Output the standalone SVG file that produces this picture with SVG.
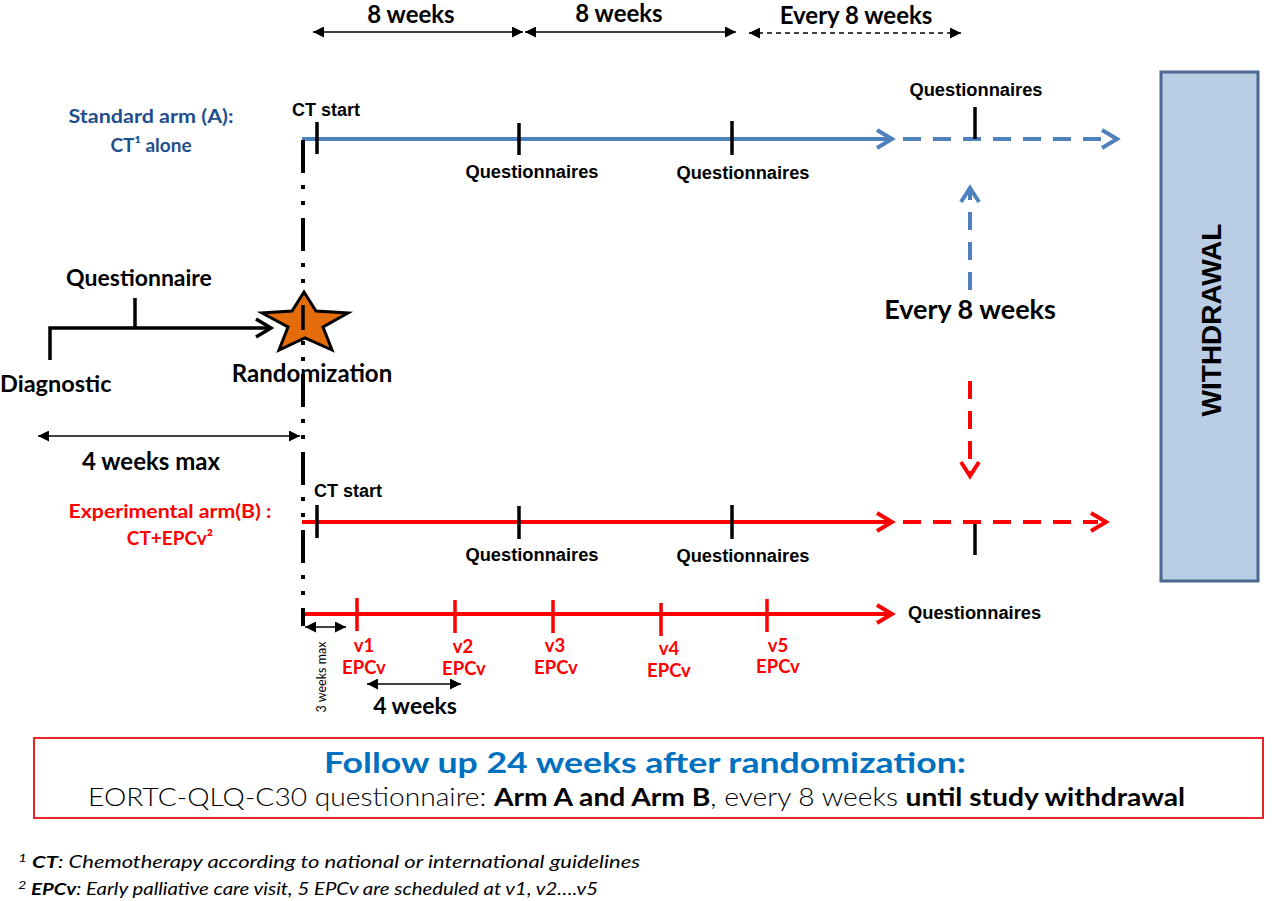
<svg xmlns="http://www.w3.org/2000/svg" width="1280" height="901" viewBox="0 0 1280 901">
<style>
.cal{font-family:Lato,"Open Sans","Liberation Sans",sans-serif;font-weight:bold}
.ari{font-family:"Liberation Sans",Arial,sans-serif;font-weight:bold}
.tick{stroke:#000;stroke-width:3.5}
.rtick{stroke:#FF0000;stroke-width:3.5}
.blue{stroke:#4F81BD;stroke-width:4;fill:none}
.red{stroke:#FF0000;stroke-width:4;fill:none}
.blk{stroke:#000;stroke-width:1.6;fill:none}
</style>
<defs>
<marker id="tri" viewBox="0 0 10 10" refX="10" refY="5" markerWidth="11" markerHeight="11" markerUnits="userSpaceOnUse" orient="auto-start-reverse">
<path d="M0,0 L10,5 L0,10 z" fill="#000"/>
</marker>
</defs>
<rect width="1280" height="901" fill="#fff"/>

<g id="connectors">
<line class="blk" x1="313" y1="32" x2="523" y2="32" marker-start="url(#tri)" marker-end="url(#tri)"/>
<line class="blk" x1="525" y1="32" x2="736" y2="32" marker-start="url(#tri)" marker-end="url(#tri)"/>
<line class="blk" x1="749" y1="33" x2="961" y2="33" stroke-dasharray="5 4" marker-start="url(#tri)" marker-end="url(#tri)"/>
<line class="blue" x1="302" y1="139" x2="891" y2="139"/>
<polyline class="blue" points="877,130 892,139 877,148"/>
<line class="blue" x1="903" y1="139" x2="1110" y2="139" stroke-dasharray="18 12"/>
<polyline class="blue" points="1102,130 1117,139 1102,148"/>
<line class="red" x1="302" y1="522" x2="891" y2="522"/>
<polyline class="red" points="877,513 892,522 877,531"/>
<line class="red" x1="903" y1="522" x2="1098" y2="522" stroke-dasharray="18 12"/>
<polyline class="red" points="1091,513 1106,522 1091,531"/>
<line class="red" x1="302" y1="614" x2="891" y2="614"/>
<polyline class="red" points="877,605 892,614 877,623"/>
<line class="blue" x1="970" y1="290" x2="970" y2="190" stroke-dasharray="18 12"/>
<polyline class="blue" points="961,202 970,188 979,202"/>
<line class="red" x1="970" y1="381" x2="970" y2="474" stroke-dasharray="18 12"/>
<polyline class="red" points="961,462 970,476 979,462"/>
<polyline points="50,360 50,328 270,328" fill="none" stroke="#000" stroke-width="3.5"/>
<polyline points="256,319 271,328 256,337" fill="none" stroke="#000" stroke-width="3.5"/>
<line class="tick" x1="135" y1="298" x2="135" y2="328"/>
<line class="blk" x1="38" y1="436" x2="300" y2="436" marker-start="url(#tri)" marker-end="url(#tri)"/>
<line class="blk" x1="305" y1="627" x2="346" y2="627" marker-start="url(#tri)" marker-end="url(#tri)"/>
<line class="blk" x1="367" y1="684" x2="461" y2="684" marker-start="url(#tri)" marker-end="url(#tri)"/>
</g>

<g id="randomization-line">
<line x1="303" y1="140" x2="303" y2="626" stroke="#000" stroke-width="4" stroke-dasharray="33 12 4 12 4 13"/>
</g>

<g id="star">
<polygon points="304,292 316,311 348,313 323,327 332,350 305,338 279,350 288,327 262,313 292,311" fill="#E46C0A" stroke="#000" stroke-width="3" stroke-linejoin="miter"/>
<line x1="303" y1="305" x2="303" y2="330" stroke="#000" stroke-width="3.5"/>
</g>

<g id="ticks">
<line class="tick" x1="317" y1="122" x2="317" y2="154"/>
<line class="tick" x1="519" y1="123" x2="519" y2="155"/>
<line class="tick" x1="732" y1="121" x2="732" y2="155"/>
<line class="tick" x1="975" y1="107" x2="975" y2="139"/>
<line class="tick" x1="317" y1="505" x2="317" y2="538"/>
<line class="tick" x1="519" y1="506" x2="519" y2="539"/>
<line class="tick" x1="732" y1="505" x2="732" y2="539"/>
<line class="tick" x1="975" y1="524" x2="975" y2="555"/>
<line class="rtick" x1="357" y1="598" x2="357" y2="631"/>
<line class="rtick" x1="455" y1="600" x2="455" y2="633"/>
<line class="rtick" x1="553" y1="600" x2="553" y2="633"/>
<line class="rtick" x1="661" y1="603" x2="661" y2="636"/>
<line class="rtick" x1="767" y1="599" x2="767" y2="632"/>
</g>

<g id="top-labels" class="cal" font-size="24" text-anchor="middle">
<text x="411" y="23">8 weeks</text>
<text x="619" y="22">8 weeks</text>
<text x="856" y="24">Every 8 weeks</text>
</g>

<g id="standard-arm">
<text class="cal" font-size="19" fill="#1F4E8C" text-anchor="middle" x="151" y="123" textLength="165" lengthAdjust="spacingAndGlyphs">Standard arm (A):</text>
<text class="cal" font-size="19" fill="#1F4E8C" text-anchor="middle" x="151" y="152">CT¹ alone</text>
<text class="ari" font-size="18" x="292" y="116">CT start</text>
<text class="ari" font-size="18.3" text-anchor="middle" x="532" y="178">Questionnaires</text>
<text class="ari" font-size="18.3" text-anchor="middle" x="743" y="179">Questionnaires</text>
<text class="ari" font-size="18.3" text-anchor="middle" x="976" y="96">Questionnaires</text>
</g>

<g id="pre-randomization" class="cal">
<text font-size="23" text-anchor="middle" x="139" y="286">Questionnaire</text>
<text font-size="23.5" x="0" y="392">Diagnostic</text>
<text font-size="24" text-anchor="middle" x="312" y="382">Randomization</text>
<text font-size="24" text-anchor="middle" x="151" y="470">4 weeks max</text>
</g>

<g id="every8">
<text class="cal" font-size="27" text-anchor="middle" x="970" y="319">Every 8 weeks</text>
</g>

<g id="experimental-arm">
<text class="cal" font-size="19" fill="#FF0000" text-anchor="middle" x="170" y="518" textLength="203" lengthAdjust="spacingAndGlyphs">Experimental arm(B) :</text>
<text class="cal" font-size="19" fill="#FF0000" text-anchor="middle" x="170" y="545">CT+EPCv²</text>
<text class="ari" font-size="18" x="314" y="497">CT start</text>
<text class="ari" font-size="18.3" text-anchor="middle" x="532" y="561">Questionnaires</text>
<text class="ari" font-size="18.3" text-anchor="middle" x="743" y="562">Questionnaires</text>
<text class="ari" font-size="18.3" x="908" y="619">Questionnaires</text>
</g>

<g id="visits" class="cal" font-size="18.5" fill="#FF0000" text-anchor="middle">
<text x="364" y="652">v1</text><text x="364" y="674">EPCv</text>
<text x="463" y="653">v2</text><text x="464" y="675">EPCv</text>
<text x="555" y="652">v3</text><text x="556" y="674">EPCv</text>
<text x="669" y="655">v4</text><text x="669" y="677">EPCv</text>
<text x="778" y="652">v5</text><text x="778" y="673">EPCv</text>
</g>

<g id="intervals">
<text font-family="Lato,'Open Sans',sans-serif" font-size="12.5" text-anchor="middle" transform="translate(326,677) rotate(-90)">3 weeks max</text>
<text class="cal" font-size="23" text-anchor="middle" x="415" y="714">4 weeks</text>
</g>

<g id="withdrawal">
<rect x="1161" y="72" width="97" height="509" fill="#B9CDE5" stroke="#4A6891" stroke-width="3"/>
<text class="ari" font-size="28" text-anchor="middle" transform="translate(1221,320) rotate(-90)">WITHDRAWAL</text>
</g>

<g id="followup">
<rect x="34" y="738" width="1229" height="80" fill="#fff" stroke="#E8262A" stroke-width="2"/>
<text class="cal" font-size="29" fill="#0070C0" text-anchor="middle" x="645" y="773" textLength="642" lengthAdjust="spacingAndGlyphs">Follow up 24 weeks after randomization:</text>
<text font-family="Lato,'Open Sans',sans-serif" font-size="25" font-weight="300" x="88" y="806" textLength="1097" lengthAdjust="spacingAndGlyphs">EORTC-QLQ-C30 questionnaire: <tspan font-weight="bold">Arm A and Arm B</tspan>, every 8 weeks <tspan font-weight="bold">until study withdrawal</tspan></text>
</g>

<g id="footnotes" font-family="Lato,'Open Sans',sans-serif" font-style="italic" font-size="17">
<text x="18" y="868" textLength="622" lengthAdjust="spacingAndGlyphs"><tspan font-size="12" dy="-6">1</tspan><tspan dy="6"> </tspan><tspan font-weight="bold">CT</tspan>: Chemotherapy according to national or international guidelines</text>
<text x="18" y="895" textLength="580" lengthAdjust="spacingAndGlyphs"><tspan font-size="12" dy="-6">2</tspan><tspan dy="6"> </tspan><tspan font-weight="bold">EPCv</tspan>: Early palliative care visit, 5 EPCv are scheduled at v1, v2….v5</text>
</g>
</svg>
